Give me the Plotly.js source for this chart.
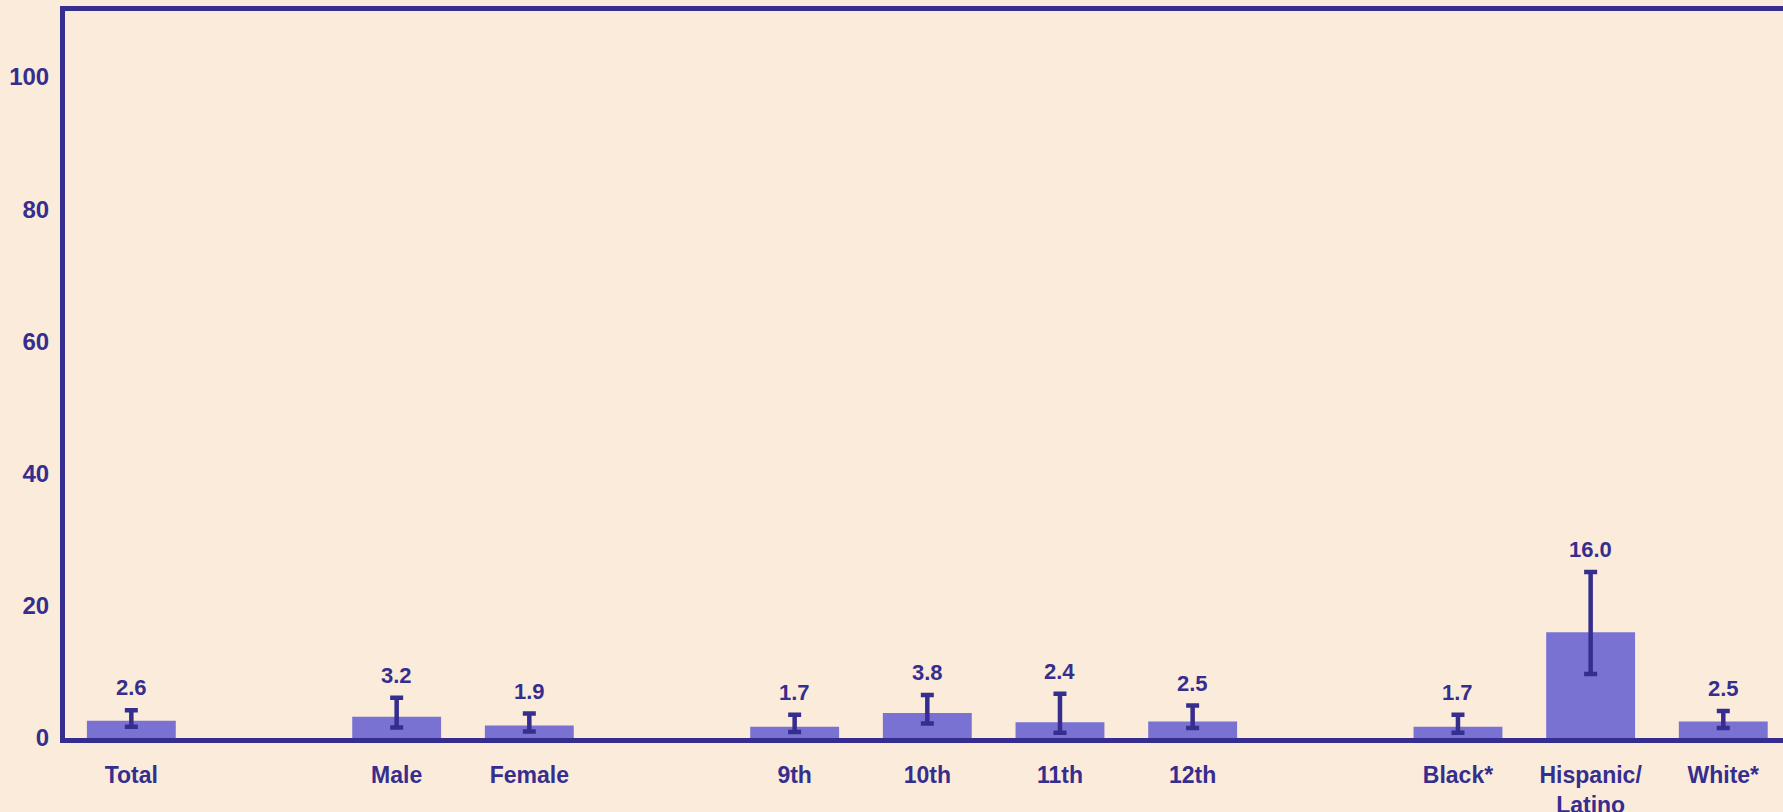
<!DOCTYPE html>
<html>
<head>
<meta charset="utf-8">
<script src="https://cdn.plot.ly/plotly-3.0.1.min.js"></script>
<style>html,body{margin:0;padding:0;background:#fbebda;}#chart{width:1783px;height:812px;}</style>
</head>
<body>
<div id="chart"></div>
<script>
// Categories in display order, blank spacer slots separate the groups
const slots = ["Total", " ", "Male", "Female", "  ", "9th", "10th", "11th", "12th", "   ", "Black*", "Hispanic/<br>Latino", "White*"];
const categories = ["Total", "Male", "Female", "9th", "10th", "11th", "12th", "Black*", "Hispanic/<br>Latino", "White*"];
const values = [2.6, 3.2, 1.9, 1.7, 3.8, 2.4, 2.5, 1.7, 16.0, 2.5];
const ciLower = [1.7, 1.6, 1.0, 0.9, 2.2, 0.8, 1.5, 0.8, 9.7, 1.5];
const ciUpper = [4.2, 6.1, 3.7, 3.5, 6.5, 6.7, 4.9, 3.5, 25.1, 4.1];
const yTicks = [0, 20, 40, 60, 80, 100];

const dark = "#352e8e";
const barColor = "#7a72d3";
const bg = "#fbebda";
const fontFam = "'Liberation Sans', Arial, sans-serif";

const trace = {
  type: "bar",
  x: categories,
  y: values,
  width: 0.67,
  marker: {color: barColor, line: {width: 0}},
  error_y: {
    type: "data",
    symmetric: false,
    array: values.map((v, i) => ciUpper[i] - v),
    arrayminus: values.map((v, i) => v - ciLower[i]),
    color: dark,
    thickness: 4.5,
    width: 6.5,
    visible: true
  },
  hoverinfo: "skip"
};

const annotations = categories.map((c, i) => ({
  x: c, y: ciUpper[i], xref: "x", yref: "y",
  text: values[i].toFixed(1),
  showarrow: false, yanchor: "bottom", yshift: 8,
  font: {family: fontFam, size: 22, color: dark, weight: "bold"}
}));

const layout = {
  width: 1783, height: 812,
  paper_bgcolor: bg, plot_bgcolor: bg,
  margin: {l: 65, r: 0, t: 11, b: 74, pad: 0},
  showlegend: false,
  font: {family: fontFam, size: 22, color: dark, weight: "bold"},
  xaxis: {
    type: "category",
    categoryorder: "array",
    categoryarray: slots,
    tickvals: categories,
    ticktext: categories,
    range: [-0.5, 12.45],
    showline: true, linecolor: dark, linewidth: 5, mirror: true,
    showgrid: false, zeroline: false,
    ticks: "", ticklabelstandoff: 12,
    tickfont: {family: fontFam, size: 23, color: dark, weight: "bold"},
    fixedrange: true
  },
  yaxis: {
    range: [0, 110],
    tickvals: yTicks,
    ticktext: yTicks.map(String),
    showline: true, linecolor: dark, linewidth: 5, mirror: false,
    showgrid: false, zeroline: false,
    ticks: "", ticklabelstandoff: 6,
    tickfont: {family: fontFam, size: 24, color: dark, weight: "bold"},
    fixedrange: true
  },
  annotations: annotations
};

Plotly.newPlot("chart", [trace], layout, {displayModeBar: false, staticPlot: true});
</script>
</body>
</html>
